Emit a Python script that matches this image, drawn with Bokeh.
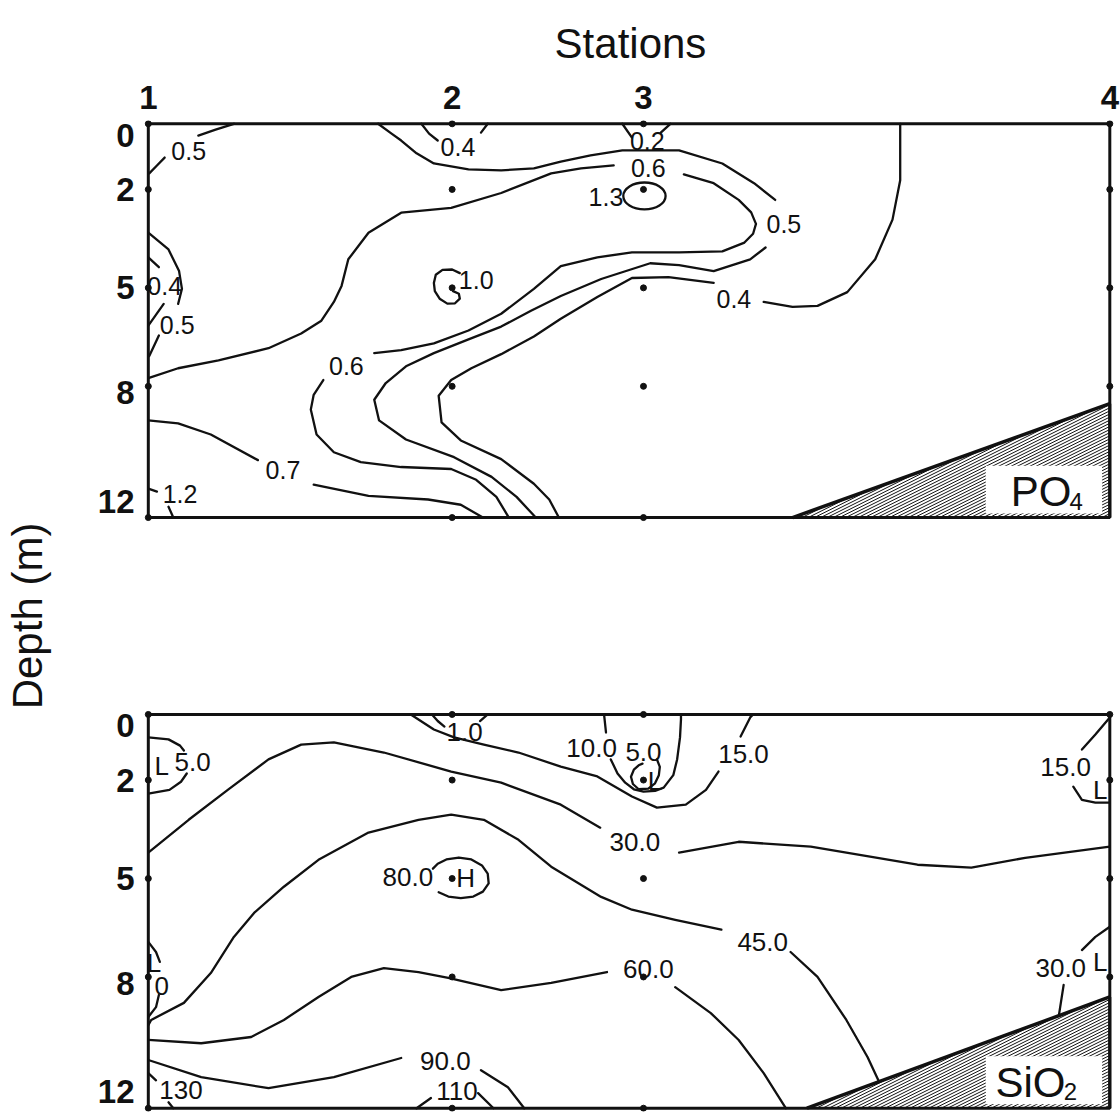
import numpy as np
from bokeh.plotting import figure
from bokeh.models import Range1d, FixedTicker
from bokeh.core.properties import value
from bokeh.embed import file_html
from bokeh.resources import INLINE

# ---------------------------------------------------------------------------
# Section geometry: station positions (relative distance along the section)
# and the depths (m) sampled at each station.
# ---------------------------------------------------------------------------
station_names = ["1", "2", "3", "4"]
station_x = [0.0, 3.16, 5.15, 10.0]
depth_ticks = [0, 2, 5, 8, 12]
# hand-lettered depth numbers sit just inside the section frame
depth_label_pos = [0.35, 2, 5, 8.2, 11.5]
max_depth = 12
sample_depths = [[0, 2, 5, 8, 12], [0, 2, 5, 8, 12], [0, 2, 5, 8, 12], [0, 2, 5, 8]]

# bottom sediment wedge: distance where it leaves the floor, depth at station 4
po4_sed_foot, po4_sed_depth = 6.70, 8.53
sio2_sed_foot, sio2_sed_depth = 6.85, 8.61

# ---------------------------------------------------------------------------
# PO4 isolines, (distance, depth) pieces; gaps are left for the labels
# ---------------------------------------------------------------------------
po4_05_corner = [[(0.01, 1.51), (0.09, 1.27), (0.17, 1.03)],
                 [(0.52, 0.36), (0.70, 0.18), (0.89, 0.0)]]
po4_04_st2 = [[(2.84, 0.0), (2.92, 0.30), (3.01, 0.51)],
              [(3.46, 0.27), (3.53, 0.0)]]
po4_02_st3 = [[(4.93, 0.0), (5.03, 0.42)],
              [(5.33, 0.27), (5.43, 0.0)]]
po4_10_st2 = [[(3.24, 4.55), (3.16, 4.44), (3.06, 4.45), (2.99, 4.60), (2.97, 4.85),
               (2.98, 5.10), (3.03, 5.33), (3.11, 5.48), (3.19, 5.47), (3.24, 5.33),
               (3.23, 5.18), (3.17, 5.10)]]
po4_06 = [[(0.0, 7.75), (0.31, 7.45), (0.73, 7.21), (1.25, 6.84), (1.59, 6.39), (1.80, 6.0),
           (1.93, 5.43), (2.01, 4.94), (2.08, 4.13), (2.29, 3.32), (2.63, 2.71), (3.15, 2.56),
           (3.67, 2.11), (4.19, 1.51), (4.50, 1.36), (4.84, 1.27)],
          [(5.57, 1.54), (5.88, 1.81), (6.14, 2.32), (6.27, 2.70), (6.32, 3.05), (6.29, 3.35),
           (6.20, 3.62), (5.97, 3.89), (5.52, 3.92), (5.03, 3.92), (4.67, 4.07), (4.29, 4.34),
           (4.01, 5.03), (3.67, 5.79), (3.33, 6.30), (2.97, 6.69), (2.63, 6.90), (2.35, 6.99)],
          [(1.82, 7.81), (1.72, 8.26), (1.69, 8.71), (1.75, 9.47), (1.93, 10.01), (2.21, 10.31),
           (2.63, 10.46), (3.15, 10.52), (3.41, 10.85), (3.62, 11.37), (3.75, 12.0)]]
po4_05 = [[(2.39, 0.0), (2.53, 0.30), (2.63, 0.51), (2.79, 0.90), (2.97, 1.21), (3.33, 1.39),
           (3.67, 1.42), (4.01, 1.36), (4.29, 1.15), (4.60, 0.96), (4.93, 0.81), (5.52, 0.81),
           (5.97, 1.21), (6.30, 1.81), (6.52, 2.32)],
          [(6.42, 3.77), (6.26, 4.13), (5.88, 4.49), (5.52, 4.31), (5.22, 4.25), (4.71, 4.73),
           (4.29, 5.25), (3.98, 5.70), (3.67, 6.18), (3.33, 6.57), (2.97, 6.99), (2.68, 7.39),
           (2.47, 7.90), (2.35, 8.41), (2.40, 9.04), (2.68, 9.62), (3.18, 10.16), (3.57, 10.76),
           (3.83, 11.37), (4.03, 12.0)]]
po4_04 = [[(7.82, 0.0), (7.82, 1.72), (7.74, 2.92), (7.56, 4.13), (7.27, 5.13), (6.96, 5.55),
           (6.70, 5.58), (6.40, 5.43)],
          [(5.88, 4.85), (5.41, 4.67), (5.03, 4.70), (4.67, 5.28), (4.29, 5.94), (4.01, 6.48),
           (3.67, 7.02), (3.36, 7.45), (3.15, 7.81), (3.02, 8.29), (3.05, 9.10), (3.25, 9.65),
           (3.67, 10.22), (4.01, 10.97), (4.17, 11.45), (4.27, 12.0)]]
po4_07 = [[(0.0, 9.04), (0.31, 9.13), (0.65, 9.47), (1.14, 10.25)],
          [(1.72, 11.0), (2.29, 11.34), (2.91, 11.45), (3.25, 11.61), (3.48, 12.0)]]
po4_12 = [[(0.0, 11.12), (0.09, 11.21)], [(0.21, 11.67), (0.26, 12.0)]]
po4_05_side = [[(0.0, 3.32), (0.21, 3.83), (0.32, 4.49), (0.35, 5.03), (0.31, 5.49)],
               [(0.11, 6.45), (0.01, 7.08)]]
po4_04_side = [[(0.0, 4.07), (0.11, 4.37)], [(0.16, 5.49), (0.0, 6.15)]]
# closed maximum around station 3 at 2 m: centre, width, height
po4_13_cell = (5.16, 2.20, 0.44, 0.82)

po4_labels = [("0.5", 0.42, 0.84), ("0.4", 3.22, 0.72), ("0.2", 5.19, 0.51),
              ("1.3", 4.76, 2.23), ("0.6", 5.20, 1.36), ("0.5", 6.61, 3.05),
              ("1.0", 3.41, 4.76), ("0.4", 0.17, 4.94), ("0.5", 0.30, 6.12),
              ("0.4", 6.09, 5.34), ("0.6", 2.06, 7.39), ("0.7", 1.40, 10.55),
              ("1.2", 0.33, 11.28)]

# ---------------------------------------------------------------------------
# SiO2 isolines
# ---------------------------------------------------------------------------
sio2_5_side = [[(0.0, 0.70), (0.21, 0.76), (0.33, 0.95), (0.37, 1.10)],
               [(0.40, 1.80), (0.34, 2.05), (0.22, 2.30), (0.0, 2.41)]]
sio2_1_st2 = [[(2.95, 0.0), (3.01, 0.20), (3.08, 0.37)], [(3.45, 0.20), (3.53, 0.0)]]
sio2_15 = [[(2.73, 0.0), (2.97, 0.46), (3.18, 0.70), (3.49, 0.92), (3.85, 1.16), (4.29, 1.59),
            (4.67, 1.89), (5.03, 2.50), (5.29, 2.84), (5.59, 2.75), (5.80, 2.30), (5.93, 1.74)],
           [(6.16, 0.67), (6.26, 0.09), (6.29, 0.0)]]
sio2_10_st3 = [[(4.74, 0.0), (4.76, 0.55)],
               [(4.81, 1.37), (4.88, 1.80), (4.96, 2.08), (5.05, 2.28), (5.15, 2.35),
                (5.27, 2.33), (5.36, 2.23), (5.46, 1.85), (5.50, 1.37), (5.53, 0.70),
                (5.54, 0.15), (5.54, 0.0)]]
sio2_5_st3 = [[(5.29, 1.37), (5.32, 1.60), (5.31, 1.85), (5.27, 2.10), (5.20, 2.26),
               (5.10, 2.28), (5.04, 2.12), (5.02, 1.90), (5.05, 1.68), (5.10, 1.55),
               (5.14, 1.50)]]
sio2_30 = [[(0.0, 4.21), (0.42, 3.21), (0.83, 2.29), (1.25, 1.37), (1.59, 0.92), (1.93, 0.85),
            (2.45, 1.16), (3.15, 1.74), (3.67, 2.08), (4.29, 2.75), (4.70, 3.45)],
           [(5.52, 4.21), (6.14, 3.88), (6.89, 4.03), (8.0, 4.58), (8.56, 4.67), (9.12, 4.37),
            (10.0, 4.03)]]
sio2_80 = [[(3.02, 5.42), (3.12, 5.55), (3.25, 5.60), (3.38, 5.55), (3.48, 5.40), (3.54, 5.15),
            (3.53, 4.85), (3.47, 4.60), (3.36, 4.42), (3.23, 4.36), (3.10, 4.42), (3.01, 4.55),
            (2.96, 4.70)]]
sio2_45 = [[(0.0, 9.47), (0.03, 9.31), (0.37, 8.79), (0.65, 7.88), (0.89, 6.78), (1.10, 6.05),
            (1.41, 5.25), (1.77, 4.43), (2.29, 3.60), (2.81, 3.21), (3.15, 3.05), (3.49, 3.21),
            (3.85, 3.82), (4.19, 4.64), (4.71, 5.56), (5.03, 5.95), (5.48, 6.26), (5.96, 6.56)],
           [(6.68, 7.24), (6.96, 8.0), (7.26, 9.31), (7.48, 10.44), (7.60, 11.19)]]
sio2_low_side = [[(0.0, 6.93), (0.08, 7.24), (0.12, 7.54)],
                 [(0.11, 8.55), (0.08, 8.92), (0.0, 9.22)]]
sio2_60 = [[(0.0, 9.92), (0.55, 10.02), (1.07, 9.83), (1.41, 9.31), (1.77, 8.61), (2.11, 8.0),
            (2.45, 7.73), (2.81, 7.85), (3.12, 8.03), (3.67, 8.40), (4.19, 8.18), (4.77, 7.85)],
           [(5.48, 8.31), (5.85, 9.10), (6.14, 9.92), (6.40, 10.93), (6.63, 12.0)]]
sio2_90 = [[(0.0, 10.53), (0.55, 11.05), (1.25, 11.39), (1.93, 11.05), (2.63, 10.47)],
           [(3.46, 10.84), (3.74, 11.36), (3.91, 12.0)]]
sio2_130 = [[(0.0, 10.93), (0.08, 11.15)], [(0.21, 11.82), (0.26, 12.0)]]
sio2_110 = [[(2.79, 12.0), (2.94, 11.69)], [(3.43, 11.54), (3.59, 12.0)]]
sio2_15_st4 = [[(10.0, 0.09), (9.85, 0.61), (9.71, 1.07)],
               [(9.62, 2.20), (9.71, 2.60), (9.85, 2.69), (10.0, 2.69)]]
sio2_30_st4 = [[(10.0, 6.47), (9.85, 6.78), (9.71, 7.18)], [(9.52, 8.24), (9.47, 9.18)]]

sio2_labels = [("5.0", 0.46, 1.45), ("L", 0.14, 1.56), ("1.0", 3.29, 0.55),
               ("10.0", 4.61, 1.01), ("5.0", 5.15, 1.13), ("L", 5.27, 2.02),
               ("15.0", 6.19, 1.22), ("15.0", 9.54, 1.59), ("L", 9.90, 2.29),
               ("30.0", 5.06, 3.88), ("80.0", 2.70, 4.95), ("H", 3.30, 4.98),
               ("45.0", 6.39, 6.93), ("60.0", 5.20, 7.76), ("L", 0.06, 7.57),
               ("0", 0.14, 8.27), ("30.0", 9.49, 7.73), ("L", 9.90, 7.54),
               ("90.0", 3.09, 10.57), ("130", 0.34, 11.45), ("110", 3.21, 11.48)]

# vertical offset of the second section in plot coordinates
SECOND_OFFSET = 18

FONT = value("Liberation Sans")
INK = "#111111"

p = figure(width=1120, height=1112,
           x_range=Range1d(-0.05, 10.08), y_range=Range1d(30.1, -0.1),
           x_axis_location="above", y_axis_location="left",
           output_backend="svg", toolbar_location=None,
           min_border_left=142, min_border_right=3, min_border_top=120, min_border_bottom=1)
p.xgrid.visible = False
p.ygrid.visible = False
p.outline_line_color = None
p.background_fill_color = "white"
p.border_fill_color = "white"

# station axis on top
p.xaxis.ticker = FixedTicker(ticks=station_x)
p.xaxis.major_label_overrides = {x: n for x, n in zip(station_x, station_names)}
p.xaxis.axis_label = "Stations"
p.xaxis.axis_label_standoff = 16
p.xaxis.major_label_standoff = 6

# depth axis, shared by both sections
y_ticks = depth_label_pos + [d + SECOND_OFFSET for d in depth_label_pos]
p.yaxis.ticker = FixedTicker(ticks=y_ticks)
p.yaxis.major_label_overrides = {t: str(d) for t, d in zip(y_ticks, depth_ticks * 2)}
p.yaxis.axis_label = "Depth (m)"
p.yaxis.axis_label_standoff = 44
p.yaxis.major_label_standoff = 3

for ax in p.axis:
    ax.axis_line_color = None
    ax.major_tick_line_color = None
    ax.minor_tick_line_color = None
    ax.major_label_text_font = "Liberation Sans"
    ax.major_label_text_font_style = "bold"
    ax.major_label_text_font_size = "33px"
    ax.major_label_text_color = INK
    ax.axis_label_text_font = "Liberation Sans"
    ax.axis_label_text_font_style = "normal"
    ax.axis_label_text_font_size = "42px"
    ax.axis_label_text_color = INK


def hatch_lines(foot, right_depth, y_off, k=1.46, step=0.065):
    """Slanted hatch strokes filling the sediment wedge."""
    h = (max_depth - right_depth) / (station_x[-1] - foot)
    xs, ys = [], []
    for xb in np.arange(foot + step / 2, station_x[-1], step):
        x_end = min((k * xb - foot * h) / (k - h), station_x[-1])
        xs.append([xb, x_end])
        ys.append([max_depth + y_off, max_depth - k * (x_end - xb) + y_off])
    return xs, ys


def draw_section(lines, labels, sed_foot, sed_depth, species, sub, species_x, sub_x,
                 y_off, label_size):
    # frame of the section
    p.quad(left=[station_x[0]], right=[station_x[-1]], top=[0 + y_off],
           bottom=[max_depth + y_off], fill_color=None, line_color=INK, line_width=3)

    # isolines
    xs, ys = [], []
    for line in lines:
        for piece in line:
            xs.append([pt[0] for pt in piece])
            ys.append([pt[1] + y_off for pt in piece])
    p.multi_line(xs, ys, line_color=INK, line_width=2.3, line_join="round", line_cap="round")

    # sediment wedge
    hx, hy = hatch_lines(sed_foot, sed_depth, y_off)
    p.multi_line(hx, hy, line_color=INK, line_width=1)
    p.line([sed_foot, station_x[-1]], [max_depth + y_off, sed_depth + y_off],
           line_color=INK, line_width=3.5)
    p.line([station_x[-1], station_x[-1]], [sed_depth + y_off, max_depth + y_off],
           line_color=INK, line_width=3)

    # species box inside the wedge
    p.quad(left=[8.71], right=[9.92], top=[10.42 + y_off], bottom=[11.88 + y_off],
           fill_color="white", line_color=None)
    p.text(x=[species_x], y=[11.22 + y_off], text=[species], text_font=FONT,
           text_font_size="42px", text_align="left", text_baseline="middle",
           text_color=INK)
    p.text(x=[sub_x], y=[11.50 + y_off], text=[sub], text_font=FONT,
           text_font_size="24px", text_align="left", text_baseline="middle",
           text_color=INK)

    # sampling points
    dx, dy = [], []
    for sx, depths in zip(station_x, sample_depths):
        for d in depths:
            dx.append(sx)
            dy.append(d + y_off)
    p.scatter(dx, dy, size=6, color=INK)

    # isoline labels
    p.text(x=[l[1] for l in labels], y=[l[2] + y_off for l in labels],
           text=[l[0] for l in labels], text_font=FONT, text_font_size=label_size,
           text_align="center", text_baseline="middle", text_color=INK)


draw_section([po4_05_corner, po4_04_st2, po4_02_st3, po4_10_st2, po4_06, po4_05, po4_04,
              po4_07, po4_12, po4_05_side, po4_04_side],
             po4_labels, po4_sed_foot, po4_sed_depth, "PO", "4", 8.97, 9.58, 0, "25px")
cx, cy, cw, ch = po4_13_cell
p.ellipse(x=[cx], y=[cy], width=[cw], height=[ch], fill_color=None,
          line_color=INK, line_width=2.3)

draw_section([sio2_5_side, sio2_1_st2, sio2_15, sio2_10_st3, sio2_5_st3, sio2_30, sio2_80,
              sio2_45, sio2_low_side, sio2_60, sio2_90, sio2_130, sio2_110, sio2_15_st4,
              sio2_30_st4],
             sio2_labels, sio2_sed_foot, sio2_sed_depth, "SiO", "2", 8.81, 9.52,
             SECOND_OFFSET, "26px")

open("out.html", "w").write(file_html(p, INLINE))
